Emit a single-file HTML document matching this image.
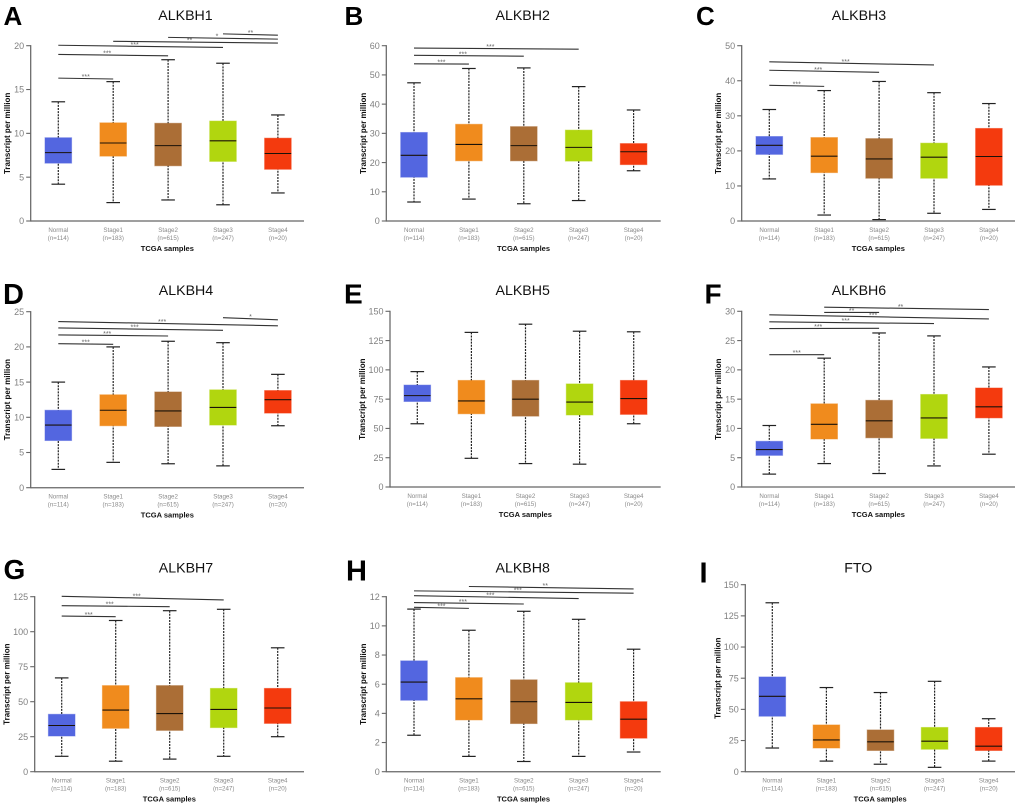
<!DOCTYPE html>
<html lang="en">
<head>
<meta charset="utf-8">
<title>ALKBH family expression by tumour stage</title>
<style>
html,body{margin:0;padding:0;background:#fff;}
body{width:1020px;height:808px;overflow:hidden;}
#figure{display:block;filter:blur(0.3px);font-family:"Liberation Sans",Arial,sans-serif;}
</style>
</head>
<body>
<svg id="figure" xmlns="http://www.w3.org/2000/svg" width="1020" height="808" viewBox="0 0 1020 808"></svg>
<script>
// ---- shared categories and labels ----
const categories = ['Normal', 'Stage1', 'Stage2', 'Stage3', 'Stage4'];
const sampleCounts = ['(n=114)', '(n=183)', '(n=615)', '(n=247)', '(n=20)'];
const genes = ['ALKBH1', 'ALKBH2', 'ALKBH3', 'ALKBH4', 'ALKBH5', 'ALKBH6', 'ALKBH7', 'ALKBH8', 'FTO'];
const panelLetters = ['A', 'B', 'C', 'D', 'E', 'F', 'G', 'H', 'I'];

// ---- y-axis tick labels per panel ----
const ticksAlkbh1 = [0, 5, 10, 15, 20];
const ticksAlkbh2 = [0, 10, 20, 30, 40, 50, 60];
const ticksAlkbh3 = [0, 10, 20, 30, 40, 50];
const ticksAlkbh4 = [0, 5, 10, 15, 20, 25];
const ticksAlkbh5 = [0, 25, 50, 75, 100, 125, 150];
const ticksAlkbh6 = [0, 5, 10, 15, 20, 25, 30];
const ticksAlkbh7 = [0, 25, 50, 75, 100, 125];
const ticksAlkbh8 = [0, 2, 4, 6, 8, 10, 12];
const ticksFto = [0, 25, 50, 75, 100, 125, 150];

// ---- box statistics per panel: [whisker low, q1, median, q3, whisker high] ----
const boxesAlkbh1 = [[4.2, 6.6, 7.8, 9.5, 13.6], [2.1, 7.4, 8.9, 11.2, 15.9], [2.4, 6.3, 8.6, 11.15, 18.4], [1.85, 6.8, 9.15, 11.4, 18], [3.2, 5.9, 7.7, 9.45, 12.1]];
const boxesAlkbh2 = [[6.5, 15, 22.5, 30.3, 47.3], [7.5, 20.6, 26.2, 33.1, 52.2], [5.9, 20.6, 25.8, 32.3, 52.4], [7, 20.5, 25.2, 31.1, 46], [17.2, 19.3, 23.7, 26.5, 38]];
const boxesAlkbh3 = [[12, 19, 21.6, 24.1, 31.8], [1.7, 13.8, 18.5, 23.8, 37.2], [0.4, 12.2, 17.7, 23.5, 39.8], [2.2, 12.2, 18.2, 22.2, 36.6], [3.3, 10.2, 18.4, 26.4, 33.5]];
const boxesAlkbh4 = [[2.6, 6.7, 8.9, 11, 15], [3.6, 8.8, 11, 13.2, 20], [3.4, 8.7, 10.9, 13.6, 20.8], [3.1, 8.9, 11.4, 13.9, 20.6], [8.8, 10.6, 12.5, 13.8, 16.1]];
const boxesAlkbh5 = [[54, 73, 78, 87, 98.5], [24.5, 62.5, 73.5, 91, 132], [20, 60.5, 75, 91, 139], [19.5, 61.5, 72.5, 88, 133], [54, 62, 75.5, 91, 132.5]];
const boxesAlkbh6 = [[2.2, 5.4, 6.4, 7.8, 10.5], [4, 8.2, 10.7, 14.2, 22], [2.3, 8.4, 11.3, 14.8, 26.3], [3.6, 8.3, 11.8, 15.8, 25.8], [5.6, 11.8, 13.7, 16.9, 20.5]];
const boxesAlkbh7 = [[11, 25.5, 33, 41, 67], [7.5, 31, 44, 61.5, 108], [9, 29.5, 41.5, 61.5, 115], [11, 31.5, 44.5, 59.5, 116], [25, 34.5, 45.5, 59.5, 88.5]];
const boxesAlkbh8 = [[2.5, 4.9, 6.15, 7.6, 11.15], [1.05, 3.55, 5, 6.45, 9.7], [0.7, 3.3, 4.8, 6.3, 11], [1.05, 3.55, 4.75, 6.1, 10.45], [1.35, 2.3, 3.6, 4.8, 8.4]];
const boxesFto = [[19, 44.5, 60.5, 76, 135.5], [8.5, 19, 25.5, 37.5, 67.5], [6, 17, 24, 33.5, 63.5], [3.5, 18, 24.5, 35.5, 72.5], [8.5, 17, 20.5, 35.5, 42.5]];

// ---- significance brackets: [from group, to group, level at left, level at right, stars] ----
const sigAlkbh1 = [[0, 1, 16.3, 16.2, '***'], [0, 2, 19, 18.85, '***'], [0, 3, 20.05, 19.8, '***'], [1, 4, 20.5, 20.3, '**'], [2, 4, 20.95, 20.75, '*'], [3, 4, 21.35, 21.2, '**']];
const sigAlkbh2 = [[0, 1, 53.8, 53.7, '***'], [0, 2, 56.7, 56.4, '***'], [0, 3, 59.2, 58.8, '***']];
const sigAlkbh3 = [[0, 1, 38.7, 38.4, '***'], [0, 2, 43, 42.4, '***'], [0, 3, 45.4, 44.5, '***']];
const sigAlkbh4 = [[0, 1, 20.45, 20.37, '***'], [0, 2, 21.7, 21.55, '***'], [0, 3, 22.7, 22.35, '***'], [0, 4, 23.6, 23, '***'], [3, 4, 24.15, 23.85, '*']];
const sigAlkbh5 = [];
const sigAlkbh6 = [[0, 1, 22.6, 22.6, '***'], [0, 2, 27.05, 27.1, '***'], [0, 3, 28.2, 27.9, '***'], [0, 4, 29.4, 28.7, '***'], [1, 2, 29.8, 29.8, '**'], [1, 4, 30.7, 30.3, '**']];
const sigAlkbh7 = [[0, 1, 111.2, 110.7, '***'], [0, 2, 118.6, 117.9, '***'], [0, 3, 125.3, 122.7, '***']];
const sigAlkbh8 = [[0, 1, 11.27, 11.2, '***'], [0, 2, 11.6, 11.5, '***'], [0, 3, 12.07, 11.87, '***'], [0, 4, 12.4, 12.24, '***'], [1, 4, 12.7, 12.53, '**']];
const sigFto = [];

const allTicks = [ticksAlkbh1, ticksAlkbh2, ticksAlkbh3, ticksAlkbh4, ticksAlkbh5, ticksAlkbh6, ticksAlkbh7, ticksAlkbh8, ticksFto];
const allBoxes = [boxesAlkbh1, boxesAlkbh2, boxesAlkbh3, boxesAlkbh4, boxesAlkbh5, boxesAlkbh6, boxesAlkbh7, boxesAlkbh8, boxesFto];
const allSig = [sigAlkbh1, sigAlkbh2, sigAlkbh3, sigAlkbh4, sigAlkbh5, sigAlkbh6, sigAlkbh7, sigAlkbh8, sigFto];

// ---- layout and styling (separate from the data) ----
const svg = document.getElementById('figure');
const NS = 'http://www.w3.org/2000/svg';
const boxColors = ['#5366e0', '#f08b1d', '#ab6e36', '#b1d60f', '#f43a0e'];
const panelFrames = [
  {left: 30.7, right: 304, top: 45.7, zero: 221, first: 58.3, step: 54.9, titleX: 185.5, titleY: 20, letterX: 3.5, letterY: 25, letterSize: 26},
  {left: 386.3, right: 660.7, top: 45.7, zero: 221, first: 414, step: 54.9, titleX: 522.7, titleY: 20, letterX: 344.5, letterY: 25, letterSize: 26},
  {left: 741.7, right: 1015, top: 45.7, zero: 221, first: 769.3, step: 54.9, titleX: 859, titleY: 20, letterX: 696, letterY: 25, letterSize: 26},
  {left: 30.7, right: 304, top: 311.7, zero: 487.7, first: 58.3, step: 54.9, titleX: 186, titleY: 295, letterX: 3, letterY: 304, letterSize: 29},
  {left: 390, right: 660.7, top: 311.3, zero: 487, first: 417.3, step: 54.1, titleX: 522.7, titleY: 295, letterX: 344, letterY: 303.3, letterSize: 28},
  {left: 741.7, right: 1015, top: 311.3, zero: 487, first: 769.3, step: 54.9, titleX: 859, titleY: 295, letterX: 704.5, letterY: 303.3, letterSize: 28},
  {left: 34.7, right: 304, top: 596.7, zero: 771.7, first: 61.7, step: 54, titleX: 186, titleY: 572.3, letterX: 3.5, letterY: 579, letterSize: 28},
  {left: 386.3, right: 660.7, top: 596.7, zero: 771.7, first: 414, step: 54.9, titleX: 522.7, titleY: 572.3, letterX: 346, letterY: 580.7, letterSize: 29},
  {left: 745.3, right: 1015, top: 584.7, zero: 771.7, first: 772.3, step: 54.1, titleX: 858.3, titleY: 572.3, letterX: 699.5, letterY: 582.3, letterSize: 29}
];

function svgEl(tag, attrs, parent, text) {
  const el = document.createElementNS(NS, tag);
  for (const key in attrs) el.setAttribute(key, attrs[key]);
  if (text !== undefined) el.textContent = text;
  parent.appendChild(el);
  return el;
}

function drawPanel(p) {
  const frame = panelFrames[p];
  const gene = genes[p];
  const slug = gene.toLowerCase();
  const ticks = allTicks[p];
  const boxes = allBoxes[p];
  const sig = allSig[p];
  const maxValue = ticks[ticks.length - 1];
  const yScale = v => frame.zero - (v / maxValue) * (frame.zero - frame.top);
  const xScale = i => frame.first + frame.step * i;

  const panel = svgEl('g', {}, svg);
  
  

  const letter = svgEl('text', {x: frame.letterX, y: frame.letterY, 'font-size': frame.letterSize, 'font-weight': 'bold', fill: '#000'}, panel, panelLetters[p]);
  
  

  const title = svgEl('text', {x: frame.titleX, y: frame.titleY, 'font-size': 14.2, 'text-anchor': 'middle', fill: '#111'}, panel, gene);
  
  

  const yAxis = svgEl('line', {x1: frame.left, x2: frame.left, y1: frame.top - 0.6, y2: frame.zero + 0.6, stroke: '#666', 'stroke-width': 1.25}, panel);
  
  

  const xAxis = svgEl('line', {x1: frame.left, x2: frame.right, y1: frame.zero, y2: frame.zero, stroke: '#666', 'stroke-width': 1.25}, panel);
  
  

  ticks.forEach(tick => {
    const tickMark = svgEl('line', {x1: frame.left - 4.5, x2: frame.left, y1: yScale(tick), y2: yScale(tick), stroke: '#666', 'stroke-width': 1.1}, panel);
    
    
    const tickLabel = svgEl('text', {x: frame.left - 6.5, y: yScale(tick) + 3.2, 'font-size': 9, 'text-anchor': 'end', fill: '#808080'}, panel, String(tick));
    
    
  });

  const titleOffset = String(maxValue).length > 2 ? 25 : 20.5;
  const titleX = frame.left - titleOffset;
  const titleY = (frame.top + frame.zero) / 2;
  const yTitle = svgEl('text', {x: titleX, y: titleY, 'font-size': 8, 'font-weight': 'bold', 'text-anchor': 'middle', fill: '#111', transform: 'rotate(-90 ' + titleX + ' ' + titleY + ')'}, panel, 'Transcript per million');
  
  

  const xTitle = svgEl('text', {x: (frame.left + frame.right) / 2, y: frame.zero + 30, 'font-size': 7.5, 'font-weight': 'bold', 'text-anchor': 'middle', fill: '#111'}, panel, 'TCGA samples');
  
  

  boxes.forEach((stats, i) => {
    const cx = xScale(i);
    const group = svgEl('g', {}, panel);
    
    

    const whisker = svgEl('line', {x1: cx, x2: cx, y1: yScale(stats[4]), y2: yScale(stats[0]), stroke: '#222', 'stroke-width': 1.2, 'stroke-dasharray': '2 1.1'}, group);
    
    

    const capHigh = svgEl('line', {x1: cx - 6.8, x2: cx + 6.8, y1: yScale(stats[4]), y2: yScale(stats[4]), stroke: '#222', 'stroke-width': 1.2}, group);
    
    

    const capLow = svgEl('line', {x1: cx - 6.8, x2: cx + 6.8, y1: yScale(stats[0]), y2: yScale(stats[0]), stroke: '#222', 'stroke-width': 1.2}, group);
    
    

    const rect = svgEl('rect', {x: cx - 13.3, y: yScale(stats[3]), width: 26.6, height: yScale(stats[1]) - yScale(stats[3]), fill: boxColors[i], stroke: boxColors[i], 'stroke-opacity': 0.5, 'stroke-width': 1}, group);
    
    

    const median = svgEl('line', {x1: cx - 13.3, x2: cx + 13.3, y1: yScale(stats[2]), y2: yScale(stats[2]), stroke: '#1a1208', 'stroke-width': 1.1}, group);
    
    

    const category = svgEl('text', {x: cx, y: frame.zero + 10.8, 'font-size': 6.2, 'text-anchor': 'middle', fill: '#8a8a8a'}, panel, categories[i]);
    
    

    const count = svgEl('text', {x: cx, y: frame.zero + 18.8, 'font-size': 6.2, 'text-anchor': 'middle', fill: '#8a8a8a'}, panel, sampleCounts[i]);
    
    
  });

  sig.forEach((entry, k) => {
    const x1 = xScale(entry[0]);
    const x2 = xScale(entry[1]);
    const y1 = yScale(entry[2]);
    const y2 = yScale(entry[3]);
    const bracket = svgEl('line', {x1: x1, x2: x2, y1: y1, y2: y2, stroke: '#333', 'stroke-width': 1.1}, panel);
    
    
    const labelX = (x1 + x2) / 2 - (entry[1] - entry[0] > 1 ? 6 : 0);
    const labelY = (y1 + y2) / 2 + 0.5;
    const stars = svgEl('text', {x: labelX, y: labelY, 'font-size': 7, 'text-anchor': 'middle', fill: '#666'}, panel, entry[4]);
    
    
  });
}

genes.forEach((gene, p) => drawPanel(p));
</script>
</body>
</html>
